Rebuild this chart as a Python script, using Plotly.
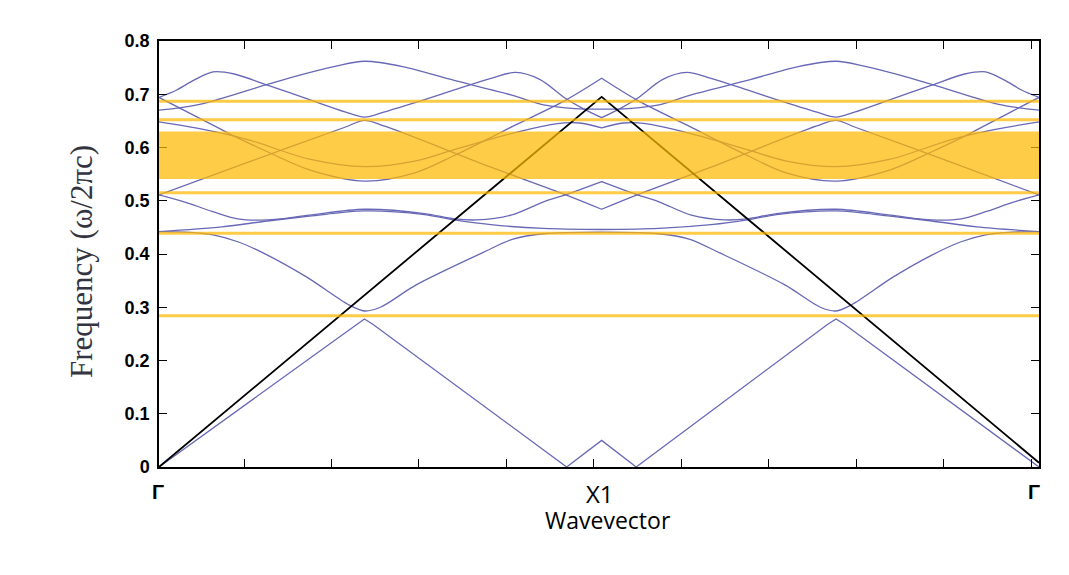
import plotly.graph_objects as go

# ---------------- data (band frequencies) ----------------
# t = fraction of the path from Gamma (0) to X1 (1); the X1 -> Gamma half is the mirror.
B1_t = [0, 0.445, 0.464, 0.483, 0.921, 1.0]
B1_f = [0.0, 0.268, 0.278, 0.268, 0.0, 0.05]

B2_t = [0, 0.06, 0.122, 0.178, 0.245, 0.333, 0.43, 0.464, 0.50, 0.581, 0.73, 0.80, 0.87, 1.0]
B2_f = [0.442, 0.441, 0.436, 0.423, 0.398, 0.357, 0.304, 0.293, 0.300, 0.342, 0.402, 0.428, 0.438, 0.441]

B3_t = [0, 0.142, 0.245, 0.34, 0.464, 0.60, 0.667, 0.75, 0.869, 1.0]
B3_f = [0.442, 0.451, 0.462, 0.471, 0.481, 0.474, 0.464, 0.455, 0.448, 0.446]

B4_t = [0, 0.06, 0.12, 0.178, 0.245, 0.34, 0.464, 0.60, 0.667, 0.718, 0.795, 0.869, 0.921, 1.0]
B4_f = [0.511, 0.497, 0.480, 0.466, 0.464, 0.473, 0.484, 0.476, 0.466, 0.464, 0.473, 0.498, 0.512, 0.536]

B5_t = [0, 0.2, 0.42, 0.464, 0.51, 0.75, 0.919, 1.0]
B5_f = [0.511, 0.572, 0.638, 0.651, 0.640, 0.563, 0.511, 0.484]

B6_t = [0, 0.1, 0.2, 0.34, 0.464, 0.58, 0.667, 0.80, 0.90, 0.95, 1.0]
B6_f = [0.648, 0.634, 0.615, 0.578, 0.564, 0.575, 0.596, 0.627, 0.645, 0.646, 0.637]

B7_t = [0, 0.08, 0.178, 0.245, 0.34, 0.464, 0.58, 0.667, 0.80, 0.919, 1.0]
B7_f = [0.694, 0.660, 0.618, 0.592, 0.558, 0.537, 0.553, 0.585, 0.640, 0.689, 0.730]

B8_t = [0, 0.04, 0.08, 0.122, 0.17, 0.245, 0.34, 0.42, 0.464, 0.51, 0.60, 0.667, 0.75, 0.806, 0.86, 0.919, 0.96, 1.0]
B8_f = [0.694, 0.708, 0.727, 0.742, 0.738, 0.717, 0.690, 0.667, 0.657, 0.667, 0.690, 0.708, 0.730, 0.741, 0.728, 0.692, 0.672, 0.656]

B9_t = [0, 0.092, 0.239, 0.318, 0.40, 0.464, 0.55, 0.667, 0.795, 0.869, 0.94, 1.0]
B9_f = [0.670, 0.681, 0.717, 0.736, 0.753, 0.762, 0.752, 0.726, 0.699, 0.680, 0.673, 0.672]

BANDS = [(B1_t, B1_f), (B2_t, B2_f), (B3_t, B3_f), (B4_t, B4_f), (B5_t, B5_f),
         (B6_t, B6_f), (B7_t, B7_f), (B8_t, B8_f), (B9_t, B9_f)]

# light line: frequency at Gamma (left), X1, Gamma (right)
LIGHT_f = [0.0, 0.695, 0.008]

# Orange gap lines / band (frequency levels)
GAP_LINES = [0.687, 0.652, 0.515, 0.439, 0.284]
GAP_BAND = (0.541, 0.630)

Y_TICKS = [0, 0.1, 0.2, 0.3, 0.4, 0.5, 0.6, 0.7, 0.8]
Y_TICK_TEXT = ["0", "0.1", "0.2", "0.3", "0.4", "0.5", "0.6", "0.7", "0.8"]
K_LABELS = ["Γ", "X1", "Γ"]

# ---------------- geometry of the path on the axis ----------------
K_X1 = 0.503   # X1 position on a 0..1 axis


def unfold(ts, fs):
    xl = [t * K_X1 for t in ts]
    xr = [1 - t * (1 - K_X1) for t in reversed(ts)]
    return xl + xr, list(fs) + list(reversed(fs))


fig = go.Figure()

BLUE = "rgb(104,104,182)"
for i, (ts, fs) in enumerate(BANDS):
    x, y = unfold(ts, fs)
    line = dict(color=BLUE, width=1.3)
    if i == 0:
        line["shape"] = "linear"
    else:
        line["shape"] = "spline"
        line["smoothing"] = 0.9
    fig.add_trace(go.Scatter(x=x, y=y, mode="lines", line=line,
                             hoverinfo="skip", showlegend=False))

# light line
fig.add_trace(go.Scatter(x=[0, K_X1, 1.0], y=LIGHT_f, mode="lines",
                         line=dict(color="black", width=1.8),
                         hoverinfo="skip", showlegend=False))

YEL = "rgba(255,184,0,0.72)"
shapes = [dict(type="rect", xref="x", yref="y", x0=0, x1=1,
               y0=GAP_BAND[0], y1=GAP_BAND[1], fillcolor=YEL,
               line=dict(width=0), layer="above")]
for g in GAP_LINES:
    shapes.append(dict(type="line", xref="x", yref="y", x0=0, x1=1, y0=g, y1=g,
                       line=dict(color=YEL, width=3), layer="above"))

# tick positions along k (minor ticks, unlabeled)
x_tickvals = [0.0966 + 0.0994 * k for k in range(10)]

# page has an 8px body margin; target plot area: x 159..1039, y 41..467 (screen px)
OFF = 8
W, H = 1069, 575
L, T = 159 - OFF, 41 - OFF
R = W - (1039 - OFF)
B = H - (467 - OFF)
pw = W - L - R
ph = H - T - B


def px_to_paper_x(px):
    return (px - OFF - L) / pw


def py_to_paper_y(py):
    return (467 - py) / ph


GAMMA_FONT = dict(family="Liberation Sans", size=20, color="black", weight="bold")
annotations = [
    dict(text=K_LABELS[0], x=px_to_paper_x(158), y=py_to_paper_y(492), xref="paper", yref="paper",
         showarrow=False, font=GAMMA_FONT, xanchor="center", yanchor="middle"),
    dict(text=K_LABELS[1], x=px_to_paper_x(600), y=py_to_paper_y(494), xref="paper", yref="paper",
         showarrow=False, font=dict(family="Open Sans", size=24, color="black"),
         xanchor="center", yanchor="middle"),
    dict(text=K_LABELS[2], x=px_to_paper_x(1034), y=py_to_paper_y(492), xref="paper", yref="paper",
         showarrow=False, font=GAMMA_FONT, xanchor="center", yanchor="middle"),
    dict(text="Wavevector", x=px_to_paper_x(608), y=py_to_paper_y(520), xref="paper", yref="paper",
         showarrow=False, font=dict(family="Open Sans", size=23, color="black"),
         xanchor="center", yanchor="middle"),
    dict(text="Frequency (ω/2πc)", x=px_to_paper_x(81), y=py_to_paper_y(262), xref="paper", yref="paper",
         showarrow=False, textangle=-90,
         font=dict(family="Liberation Serif", size=31, color="#343440"),
         xanchor="center", yanchor="middle"),
]

fig.update_layout(
    width=W, height=H,
    margin=dict(l=L, r=R, t=T, b=B),
    paper_bgcolor="white", plot_bgcolor="white",
    shapes=shapes, annotations=annotations,
    xaxis=dict(range=[0, 1], showgrid=False, zeroline=False,
               showline=True, linecolor="black", linewidth=1.5, mirror="ticks",
               ticks="inside", ticklen=8, tickwidth=1.3, tickcolor="black",
               tickvals=x_tickvals, showticklabels=False),
    yaxis=dict(range=[0, 0.8], showgrid=False, zeroline=False,
               showline=True, linecolor="black", linewidth=1.5, mirror="ticks",
               ticks="inside", ticklen=8, tickwidth=1.3, tickcolor="black",
               tickvals=Y_TICKS, ticktext=Y_TICK_TEXT, ticklabelstandoff=4,
               tickfont=dict(family="Liberation Sans", size=18, color="black", weight="bold")),
)

fig.write_html("out.html")
